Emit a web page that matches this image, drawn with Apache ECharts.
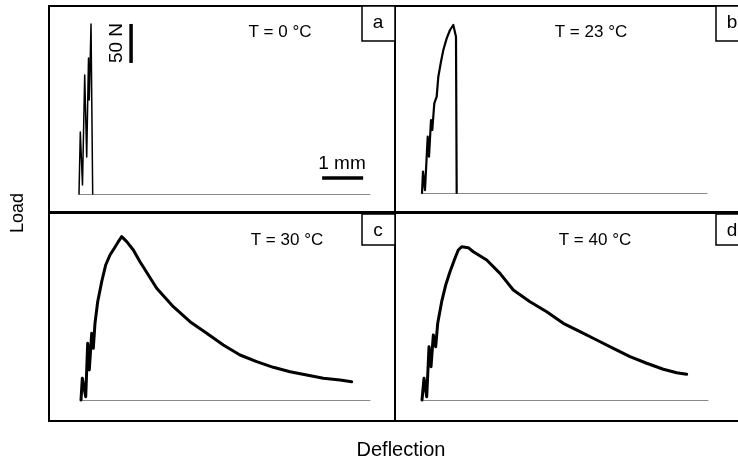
<!DOCTYPE html>
<html>
<head>
<meta charset="utf-8">
<script src="https://cdn.jsdelivr.net/npm/echarts@6/dist/echarts.min.js"></script>
<style>html,body{margin:0;padding:0;background:#fff;}#c{width:738px;height:462px;}</style>
</head>
<body>
<div id="c"></div>
<script>
// Deflection (mm) and load (N), per panel
const panelLabels = ['a', 'b', 'c', 'd'];
const tempLabels = ['T = 0 °C', 'T = 23 °C', 'T = 30 °C', 'T = 40 °C'];

const deflA = [0, 0.032, 0.085, 0.139, 0.188, 0.232, 0.251, 0.293, 0.334];
const loadA = [0, 79.5, 11.5, 152.6, 47.4, 174.4, 120.5, 217.9, 0];

const deflB = [0, 0.024, 0.073, 0.139, 0.171, 0.22, 0.251, 0.3, 0.358, 0.398, 0.463, 0.52, 0.602, 0.683, 0.763, 0.805, 0.829, 0.846];
const loadB = [0, 27.3, 3.8, 72.2, 46.5, 93.6, 80.8, 115, 123.5, 149.1, 168.3, 183.3, 198.3, 209, 215.4, 217.6, 200.4, 0];

const deflC = [0, 0.032, 0.115, 0.163, 0.202, 0.261, 0.3, 0.341, 0.407, 0.505, 0.602, 0.707, 0.812, 0.91, 0.993, 1.115, 1.276, 1.439, 1.846, 2.251, 2.659, 3.066, 3.471, 3.878, 4.285, 4.69, 5.098, 5.505, 5.91, 6.317, 6.602];
const loadC = [0, 27.8, 4.2, 72.7, 38.5, 85.5, 66.3, 98.3, 126, 151.7, 173.1, 185.9, 194.5, 203, 209.4, 203, 192.3, 177.3, 143.2, 119.6, 100.4, 85.5, 70.5, 57.7, 49.1, 41.9, 36.3, 32.1, 27.8, 25.6, 23.5];

const deflD = [0, 0.049, 0.115, 0.171, 0.22, 0.276, 0.334, 0.383, 0.48, 0.578, 0.683, 0.788, 0.885, 0.968, 1.129, 1.251, 1.578, 1.902, 2.227, 2.634, 3.041, 3.446, 3.854, 4.261, 4.666, 5.073, 5.48, 5.885, 6.212, 6.456];
const loadD = [0, 27.8, 4.2, 68.3, 42.7, 83.3, 68.3, 98.3, 126, 147.4, 164.5, 179.5, 192.3, 196.5, 195.3, 190.1, 179.5, 162.4, 141, 126, 113.2, 98.3, 87.6, 76.9, 66.3, 55.5, 47.1, 39.4, 35, 32.9];

// Scale bars (panel a): 50 N vertical, 1 mm horizontal
const scaleLoadX = [1.27, 1.27];
const scaleLoadY = [168, 218];
const scaleDeflX = [5.93, 6.93];
const scaleDeflY = [20.5, 20.5];

const FONT = 'Liberation Sans, Arial, sans-serif';
const pairs = (xs, ys) => xs.map((x, i) => [x, ys[i]]);

const grids = [
  {left: 79, top: 6.8, width: 291, height: 187.2},
  {left: 422, top: 5.8, width: 285, height: 187.2},
  {left: 81, top: 212.8, width: 289, height: 187.2},
  {left: 422, top: 212.8, width: 286, height: 187.2}
];
const xMax = grids.map(g => g.width / 41);

const xAxes = grids.map((g, i) => ({
  type: 'value', gridIndex: i, min: 0, max: xMax[i],
  axisLine: {show: true, onZero: false, lineStyle: {color: '#8a8a8a', width: 1}},
  axisTick: {show: false}, axisLabel: {show: false}, splitLine: {show: false}
}));
const yAxes = grids.map((g, i) => ({
  type: 'value', gridIndex: i, min: 0, max: 240,
  axisLine: {show: false}, axisTick: {show: false}, axisLabel: {show: false}, splitLine: {show: false}
}));

const curves = [[deflA, loadA, 1.5], [deflB, loadB, 2.2], [deflC, loadC, 3], [deflD, loadD, 3]];
const series = curves.map((c, i) => ({
  type: 'line', xAxisIndex: i, yAxisIndex: i, data: pairs(c[0], c[1]),
  symbol: 'none', clip: false, animation: false,
  lineStyle: {color: '#000', width: c[2], join: 'round', cap: 'round'}
}));
series.push({type: 'line', xAxisIndex: 0, yAxisIndex: 0, data: pairs(scaleLoadX, scaleLoadY), symbol: 'none', clip: false, animation: false, lineStyle: {color: '#000', width: 3.5}});
series.push({type: 'line', xAxisIndex: 0, yAxisIndex: 0, data: pairs(scaleDeflX, scaleDeflY), symbol: 'none', clip: false, animation: false, lineStyle: {color: '#000', width: 3.5}});

const panelRects = [
  {x: 49, y: 6, width: 346, height: 206},
  {x: 395, y: 6, width: 350, height: 206},
  {x: 49, y: 213, width: 346, height: 208},
  {x: 395, y: 213, width: 350, height: 208}
];
const labelBoxes = [
  {x: 362, y: 6, width: 33, height: 35},
  {x: 716, y: 6, width: 40, height: 35},
  {x: 362, y: 214, width: 33, height: 31},
  {x: 716, y: 214, width: 40, height: 31}
];
const tempPos = [[280, 32], [591, 32], [287, 240], [595, 240]];

const graphic = [];
panelRects.forEach(r => graphic.push({type: 'rect', shape: r, style: {fill: 'none', stroke: '#000', lineWidth: 2}, silent: true}));
labelBoxes.forEach((b, i) => {
  graphic.push({type: 'rect', shape: b, style: {fill: '#fff', stroke: '#000', lineWidth: 1.5}, silent: true});
  graphic.push({type: 'text', x: b.x + 16, y: b.y + 17, style: {text: panelLabels[i], fill: '#000', font: '19px ' + FONT, textAlign: 'center', verticalAlign: 'middle'}});
});
tempLabels.forEach((t, i) => graphic.push({type: 'text', x: tempPos[i][0], y: tempPos[i][1], style: {text: t, fill: '#000', font: '17px ' + FONT, textAlign: 'center', verticalAlign: 'middle'}}));
graphic.push({type: 'text', x: 117, y: 43, rotation: Math.PI / 2, style: {text: '50 N', fill: '#000', font: '19px ' + FONT, textAlign: 'center', verticalAlign: 'middle'}});
graphic.push({type: 'text', x: 342, y: 164, style: {text: '1 mm', fill: '#000', font: '19px ' + FONT, textAlign: 'center', verticalAlign: 'middle'}});
graphic.push({type: 'text', x: 18, y: 213, rotation: Math.PI / 2, style: {text: 'Load', fill: '#000', font: '18px ' + FONT, textAlign: 'center', verticalAlign: 'middle'}});
graphic.push({type: 'text', x: 401, y: 450, style: {text: 'Deflection', fill: '#000', font: '20px ' + FONT, textAlign: 'center', verticalAlign: 'middle'}});

const chart = echarts.init(document.getElementById('c'), null, {renderer: 'canvas'});
chart.setOption({
  backgroundColor: '#fff',
  animation: false,
  grid: grids,
  xAxis: xAxes,
  yAxis: yAxes,
  series: series,
  graphic: graphic
});
</script>
</body>
</html>
